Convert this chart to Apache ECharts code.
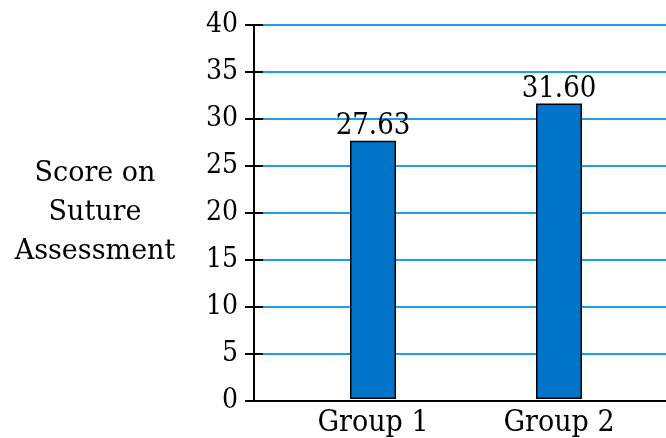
<!DOCTYPE html>
<html>
<head>
<meta charset="utf-8">
<script src="https://cdn.jsdelivr.net/npm/echarts@6/dist/echarts.min.js"></script>
<style>
  html, body { margin: 0; padding: 0; background: #fff; }
  #main { width: 666px; height: 438px; }
</style>
</head>
<body>
<div id="main"></div>
<script>
// data
const groups = ['Group 1', 'Group 2'];
const scores = [27.63, 31.60];
const yName = 'Score on\nSuture\nAssessment';

const font = 'DejaVu Serif Condensed';
const chart = echarts.init(document.getElementById('main'));

const option = {
    animation: false,
    grid: [
        { left: 254, right: 0, top: 25, bottom: 37 },   // axis + grid lines
        { left: 280, right: 14, top: 25, bottom: 37 }   // bars
    ],
    xAxis: [
        {
            gridIndex: 0, type: 'value', min: 0, max: 1,
            axisLine: { show: true, lineStyle: { color: '#000', width: 2 } },
            axisTick: { show: false }, axisLabel: { show: false }, splitLine: { show: false }
        },
        {
            gridIndex: 1, type: 'category', data: groups,
            axisLine: { show: false }, axisTick: { show: false },
            axisLabel: { fontFamily: font, fontSize: 30, color: '#000', margin: 9 }
        }
    ],
    yAxis: [
        {
            gridIndex: 0, type: 'value', min: 0, max: 40, interval: 5,
            name: yName, nameLocation: 'middle', nameRotate: 0, nameGap: 159,
            nameTextStyle: { fontFamily: 'DejaVu Serif', fontSize: 27, color: '#000', lineHeight: 39, align: 'center', verticalAlign: 'middle' },
            axisLine: { show: true, lineStyle: { color: '#000', width: 2 } },
            axisTick: { show: true, length: 9, lineStyle: { color: '#000', width: 2 } },
            axisLabel: { fontFamily: font, fontSize: 28, color: '#000', margin: 16 },
            splitLine: { show: true, lineStyle: { color: '#1ea0dc', width: 2 } }
        },
        {
            // inner half of the ticks
            gridIndex: 0, type: 'value', position: 'left', min: 0, max: 40, interval: 5,
            axisLine: { show: false }, axisLabel: { show: false }, splitLine: { show: false },
            axisTick: { show: true, inside: true, length: 9, lineStyle: { color: '#000', width: 2 } }
        },
        {
            gridIndex: 1, type: 'value', min: 0, max: 40, interval: 5, show: false
        }
    ],
    series: [
        {
            type: 'bar', xAxisIndex: 1, yAxisIndex: 2,
            data: scores, barWidth: 46,
            itemStyle: { color: '#0074c8', borderColor: '#000', borderWidth: 1.5 },
            label: {
                show: true, position: 'top', distance: 0,
                fontFamily: font, fontSize: 29, color: '#000',
                formatter: p => p.value.toFixed(2)
            }
        }
    ]
};

chart.setOption(option);
</script>
</body>
</html>
